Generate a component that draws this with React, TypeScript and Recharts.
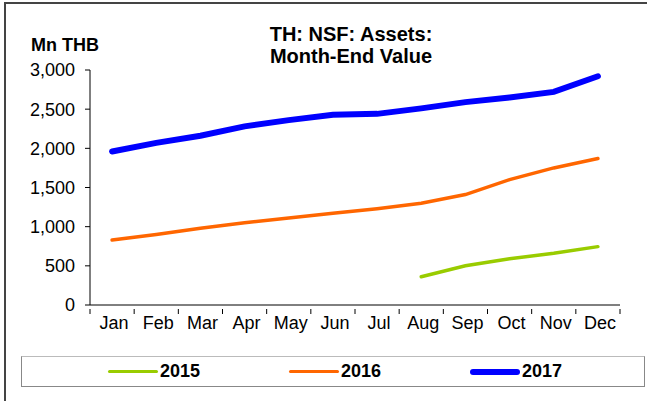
import React from 'react';
import { LineChart, Line, XAxis, YAxis } from 'recharts';

const months = ['Jan', 'Feb', 'Mar', 'Apr', 'May', 'Jun', 'Jul', 'Aug', 'Sep', 'Oct', 'Nov', 'Dec'];
const values2015 = [null, null, null, null, null, null, null, 360, 500, 590, 660, 745];
const values2016 = [830, 900, 980, 1050, 1110, 1170, 1230, 1300, 1410, 1600, 1750, 1870];
const values2017 = [1960, 2070, 2160, 2280, 2360, 2430, 2440, 2510, 2590, 2650, 2720, 2920];
const yTicks = [0, 500, 1000, 1500, 2000, 2500, 3000];
const titleLines = ['TH: NSF: Assets:', 'Month-End Value'];

const series = [
  { key: 'y2015', name: '2015', color: '#99CC00', width: 3.5 },
  { key: 'y2016', name: '2016', color: '#FF6600', width: 3.5 },
  { key: 'y2017', name: '2017', color: '#0000FF', width: 6 },
];

const data = months.map((m, i) => ({
  month: m,
  y2015: values2015[i],
  y2016: values2016[i],
  y2017: values2017[i],
}));

const FONT = 'Arial, "Liberation Sans", sans-serif';
const HALF_BAND = 530 / 12 / 2;

// month label at band centre, tick marks at band edges
const MonthTick = (props: any) => {
  const { x, y, payload, index } = props;
  return (
    <g>
      <line x1={x - HALF_BAND} y1={y - 4} x2={x - HALF_BAND} y2={y + 1} stroke="#000" />
      {index === months.length - 1 && (
        <line x1={x + HALF_BAND} y1={y - 4} x2={x + HALF_BAND} y2={y + 1} stroke="#000" />
      )}
      <text x={x + 2} y={y + 16} textAnchor="middle" fontSize={18} fill="#000" fontFamily={FONT}>
        {payload.value}
      </text>
    </g>
  );
};

const App: React.FC = () => {
  return (
    <div style={{ position: 'absolute', left: 0, top: 0, width: 647, height: 401, background: '#fff', fontFamily: FONT }}>
      {/* outer frame */}
      <div style={{ position: 'absolute', left: 4, top: 2, width: 643, height: 399, borderLeft: '2px solid #444', borderTop: '2px solid #444' }} />
      <div style={{ position: 'absolute', left: 0, top: 34, width: 130, textAlign: 'center', fontWeight: 'bold', fontSize: 18, lineHeight: '22px' }}>
        Mn THB
      </div>
      {titleLines.map((t, i) => (
        <div
          key={t}
          style={{ position: 'absolute', left: 201, top: 23 + i * 22, width: 300, height: 22, textAlign: 'center', fontWeight: 'bold', fontSize: 20, lineHeight: '22px' }}
        >
          {t}
        </div>
      ))}

      <LineChart width={647} height={401} data={data} margin={{ top: 70, right: 27, left: 0, bottom: 66 }} style={{ position: 'absolute', left: 0, top: 0 }}>
        <XAxis
          dataKey="month"
          scale="band"
          axisLine={{ stroke: '#000' }}
          tickLine={false}
          tick={<MonthTick />}
          interval={0}
          height={30}
        />
        <YAxis
          domain={[0, 3000]}
          ticks={yTicks}
          width={90}
          axisLine={{ stroke: '#000' }}
          tickLine={{ stroke: '#000' }}
          tickSize={5}
          tickMargin={10}
          tick={{ fill: '#000', fontSize: 18, fontFamily: FONT }}
          tickFormatter={(v: number) => v.toLocaleString('en-US')}
        />
        {series.map((s) => (
          <Line
            key={s.key}
            dataKey={s.key}
            name={s.name}
            stroke={s.color}
            strokeWidth={s.width}
            dot={false}
            activeDot={false}
            isAnimationActive={false}
            strokeLinecap="round"
          />
        ))}
      </LineChart>

      {/* legend box */}
      <div
        style={{
          position: 'absolute',
          left: 21,
          top: 356,
          width: 622,
          height: 29,
          borderTop: '1.5px solid #bbb',
          borderLeft: '1px solid #888',
          borderRight: '1px solid #888',
          borderBottom: '1.5px solid #888',
        }}
      >
        {series.map((s, i) => (
          <div key={s.key} style={{ position: 'absolute', left: 86 + i * 181, top: 0, height: 29, display: 'flex', alignItems: 'center' }}>
            <div style={{ width: 50, height: s.width, borderRadius: 3, background: s.color }} />
            <span style={{ marginLeft: 2, fontWeight: 'bold', fontSize: 18 }}>{s.name}</span>
          </div>
        ))}
      </div>
    </div>
  );
};

export default App;
